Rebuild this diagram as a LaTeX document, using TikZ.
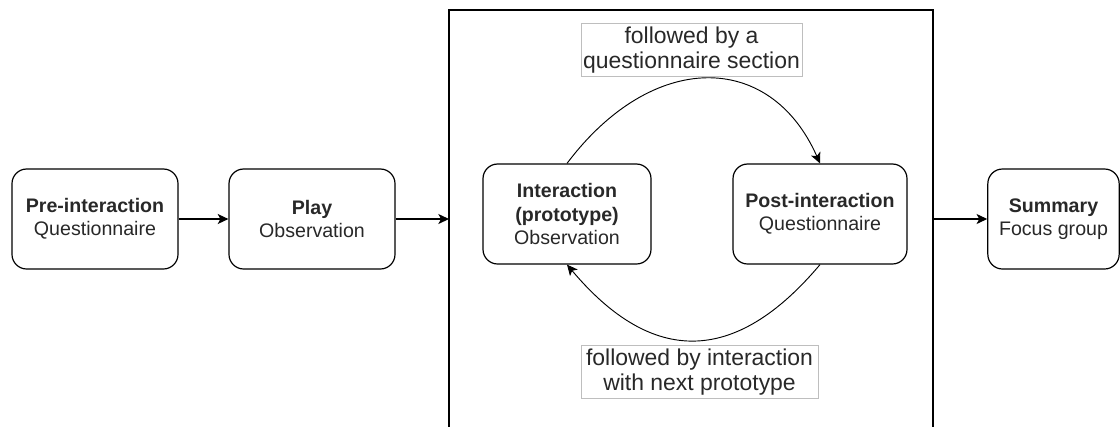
\documentclass[tikz,border=0pt]{standalone}
\usepackage{fontspec}
\setmainfont{Liberation Sans}
\usetikzlibrary{arrows.meta, positioning}
\definecolor{labelgray}{RGB}{190,190,190}
\definecolor{textgray}{RGB}{40,40,40}

\begin{document}
\begin{tikzpicture}[x=0.75pt, y=-0.75pt,
    stagebox/.style={draw, line width=0.9pt, rounded corners=11pt, minimum height=75pt,
      align=center, text=textgray, font=\fontsize{14.7}{17.3}\selectfont, inner sep=2pt},
    flowarrow/.style={-{Stealth[length=8pt,width=7.5pt,inset=2pt]}, line width=0.9pt},
    looplabel/.style={draw=labelgray, line width=0.6pt, align=center, text=textgray,
      font=\fontsize{17.2}{18.8}\selectfont, inner sep=0pt, minimum height=40pt}]
  \useasboundingbox (0,0) rectangle (1120,426);
  % Outer stages
  \node[stagebox, minimum width=124.5pt] (pre) at (95,219)
    {\textbf{Pre-interaction}\\Questionnaire};
  \node[stagebox, minimum width=124.5pt] (play) at (312,219)
    {\textbf{Play}\\Observation};
  \node[stagebox, minimum width=98.5pt] (summary) at (1053.5,219)
    {\textbf{Summary}\\Focus group};
  % Frame of the loop (open at the bottom)
  \coordinate (frameW) at (449,219);
  \coordinate (frameE) at (933,219);
  \draw[line width=0.9pt] (449,430) -- (449,10) -- (933,10) -- (933,430);
  % Loop stages
  \node[stagebox, minimum width=126pt] (interaction) at (567,214)
    {\textbf{Interaction}\\\textbf{(prototype)}\\Observation};
  \node[stagebox, minimum width=130.5pt] (post) at (820,214)
    {\textbf{Post-interaction}\\Questionnaire};
  % Arrows between stages
  \draw[flowarrow] (pre.east) -- (play.west);
  \draw[flowarrow] (play.east) -- (frameW);
  \draw[flowarrow] (frameE) -- (summary.west);
  % Loop arcs
  \draw[flowarrow, line width=0.7pt] (interaction.north)
    .. controls +(85,-113) and +(-50,-113) .. (post.north);
  \draw[flowarrow, line width=0.7pt] (post.south)
    .. controls +(-85,101) and +(85,101) .. (interaction.south);
  % Loop labels
  \node[looplabel, minimum width=165.75pt] (toplabel) at (691.5,50)
    {followed by a\\questionnaire section};
  \node[looplabel, minimum width=177.75pt] (bottomlabel) at (699.5,372)
    {followed by interaction\\with next prototype};
\end{tikzpicture}
\end{document}
